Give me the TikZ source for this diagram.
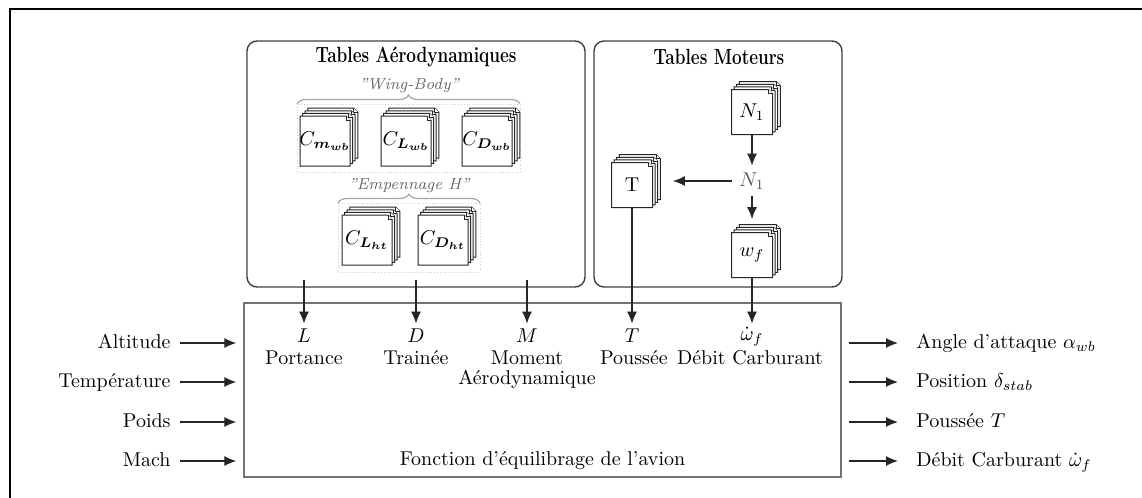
\documentclass[tikz,border=0pt]{standalone}
\usepackage{bm}
\usetikzlibrary{arrows.meta,decorations.pathreplacing}
\newcommand{\tabstack}[6]{%
  \foreach \k in {3,2,1,0}{%
    \pgfmathsetmacro{\xa}{#2-#4/2+2.6*\k}%
    \pgfmathsetmacro{\xb}{#2+#4/2+2.6*\k}%
    \pgfmathsetmacro{\ya}{#3-#5/2-2.6*\k}%
    \pgfmathsetmacro{\yb}{#3+#5/2-2.6*\k}%
    \filldraw[tbl] (\xa,\ya) -- ({\xb-4},\ya) -- (\xb,{\ya+4}) -- (\xb,\yb) -- (\xa,\yb) -- cycle;
    \draw[tbl] ({\xb-4},\ya) -- ({\xb-4},{\ya+4}) -- (\xb,{\ya+4});
  }
  \node[minimum width=#4*0.5pt, minimum height=#5*0.5pt, inner sep=0pt] (#1) at (#2,#3) {#6};
}
\begin{document}
\begin{tikzpicture}[x=0.5pt,y=-0.5pt,
  arr/.style={-{Latex[length=6pt,width=5pt]}, line width=0.6pt, draw=black!85},
  group/.style={draw=black!75, line width=0.7pt, rounded corners=5pt, inner sep=0pt},
  tbl/.style={draw=black!85, fill=white, line width=0.5pt},
  title/.style={font=\fontsize{11}{13}\selectfont\bfseries},
  sub/.style={font=\footnotesize\itshape, text=black!60},
  faint/.style={draw=black!20, line width=0.4pt, densely dotted},
  brc/.style={draw=black!35, line width=0.6pt, decorate, decoration={brace, amplitude=4.5pt}},
  lbl/.style={inner sep=2pt, text height=7pt, text depth=2pt},
  txt/.style={anchor=base, inner sep=0pt}
]
\useasboundingbox (0,0) rectangle (1142,498);
% outer frame
\draw[line width=1pt] (10,498) -- (10,9) -- (1142,9);

% groups
\node[group, minimum width=169pt, minimum height=123pt] (aero) at (416,164) {};
\node[group, minimum width=124pt, minimum height=123pt] (mot) at (718,164) {};
\node[title] (aerot) at (416,57) {\scalebox{0.78}[1]{Tables Aérodynamiques}};
\node[title] (mott) at (719,57) {\scalebox{0.78}[1]{Tables Moteurs}};

% aero sub groups
\node[sub] (wbl) at (409,86) {''Wing-Body''};
\draw[faint] (297,104) rectangle (520,172);
\draw[brc] (297,104) -- (520,104);
\node[sub] (ehl) at (409,186) {''Empennage H''};
\draw[faint] (338,203) rectangle (480,272);
\draw[brc] (338,203) -- (480,203);

\tabstack{cm}{325}{141}{50}{50}{$C_{\bm{m_{wb}}}$}
\tabstack{cl}{406}{141}{50}{50}{$C_{\bm{L_{wb}}}$}
\tabstack{cd}{487}{141}{50}{50}{$C_{\bm{D_{wb}}}$}
\tabstack{clh}{367}{240}{50}{50}{$C_{\bm{L_{ht}}}$}
\tabstack{cdh}{443}{240}{50}{50}{$C_{\bm{D_{ht}}}$}

% motor tables
\tabstack{n1t}{752}{112}{41}{45}{$N_1$}
\tabstack{tt}{632}{185}{41}{45}{T}
\tabstack{wft}{752}{255}{41}{45}{$w_f$}
\node[text=black!65] (n1v) at (752,181) {$N_1$};
\draw[arr] (n1t.south) -- (n1v.north);
\draw[arr, shorten >=10pt] (n1v.west) -- (n1v.west -| tt.east);
\draw[arr, shorten >=6.5pt] (n1v.south) -- (wft.north);

% main box
\node[draw=black!55, line width=0.7pt, minimum width=298.5pt, minimum height=87pt, inner sep=0pt] (eq) at (542.5,390) {};
\node[txt] (fn) at (542.5,465) {Fonction d'équilibrage de l'avion};

% top labels
\node[lbl, anchor=base] (lL) at (304,342) {$L$};
\node[lbl, anchor=base] (lD) at (416,342) {$D$};
\node[lbl, anchor=base] (lM) at (527,342) {$M$};
\node[lbl, anchor=base] (lT) at (632,342) {$T$};
\node[lbl, anchor=base, text depth=0pt] (lW) at (752,340) {$\dot{\omega}_f$};
\node[txt] (tL) at (304,364) {Portance};
\node[txt] (tD) at (416,364) {Trainée};
\node[txt] (tM) at (527,364) {Moment};
\node[txt] (tM2) at (527,384) {Aérodynamique};
\node[txt] (tT) at (634,364) {Poussée};
\node[txt] (tW) at (750,364) {Débit Carburant};

\draw[arr] ([yshift=4pt]aero.south -| lL) -- (lL.north);
\draw[arr] ([yshift=4pt]aero.south -| lD) -- (lD.north);
\draw[arr] ([yshift=4pt]aero.south -| lM) -- (lM.north);
\draw[arr] (tt.south) -- (lT.north);
\draw[arr] (wft.south) -- (wft.south |- lT.north);

% inputs
\node[lbl, anchor=east] (iA) at (175,343) {Altitude};
\node[lbl, anchor=east] (iT) at (175,382) {Température};
\node[lbl, anchor=east] (iP) at (175,422) {Poids};
\node[lbl, anchor=east] (iM) at (175,461) {Mach};
\foreach \n in {iA,iT,iP,iM}{
  \draw[arr, shorten <=2.5pt, shorten >=3.5pt] (\n.east) -- (\n.east -| eq.west);
}

% outputs
\node[lbl, anchor=west] (oA) at (912,343) {Angle d'attaque $\alpha_{wb}$};
\node[lbl, anchor=west] (oP) at (912,382) {Position $\delta_{stab}$};
\node[lbl, anchor=west] (oT) at (912,422) {Poussée $T$};
\node[lbl, anchor=west] (oD) at (912,461) {Débit Carburant $\dot{\omega}_f$};
\foreach \n in {oA,oP,oT,oD}{
  \draw[arr, shorten <=3.5pt, shorten >=7pt] (\n.west -| eq.east) -- (\n.west);
}
\end{tikzpicture}
\end{document}
